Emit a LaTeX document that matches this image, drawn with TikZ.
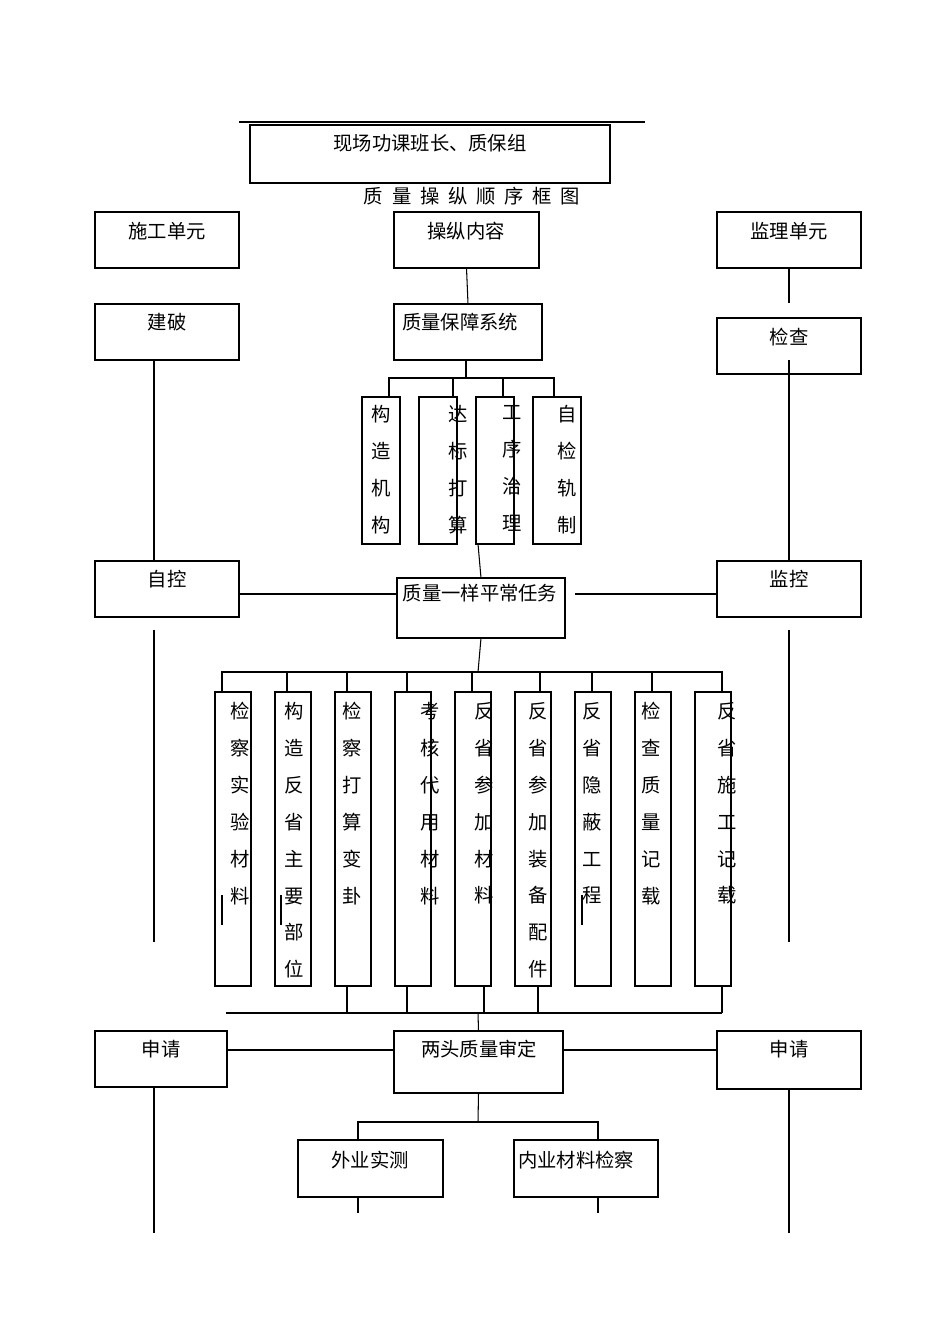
\documentclass[tikz,border=0pt]{standalone}
\usepackage{fontspec}
\newfontfamily\cjk{Noto Sans CJK SC}
\tikzset{bx/.style={draw,semithick,inner sep=0pt,outer sep=0pt},
 tx/.style={inner sep=0pt,font=\cjk\fontsize{11}{13}\selectfont},
 vt/.style={inner sep=0pt,font=\cjk\fontsize{11}{21}\selectfont,align=center,anchor=north},
 ln/.style={semithick}}
\newcommand\bx[5]{\node[bx,minimum width={#4*0.02cm},minimum height={#5*0.02cm}] (#1) at ({#2+#4/2},{#3+#5/2}) {};}
\newcommand\tg{\hspace{5pt}}
\begin{document}
\begin{tikzpicture}[x=0.02cm,y=-0.02cm]
\useasboundingbox (0,0) rectangle (950,1344);
\draw[ln] (239,122) coordinate (t1) -- (645,122) coordinate (t2);
\bx{top}{250}{125}{360}{58}
\node[tx] (ttop) at (430,143) {现场功课班长、质保组};
\node[tx] (title) at (472,196) {质\tg 量\tg 操\tg 纵\tg 顺\tg 序\tg 框\tg 图};
\bx{sg}{95}{212}{144}{56} \node[tx] (tsg) at (167,231) {施工单元};
\bx{cz}{394}{212}{145}{56} \node[tx] (tcz) at (466,231) {操纵内容};
\bx{jl}{717}{212}{144}{56} \node[tx] (tjl) at (789,231) {监理单元};
\bx{jp}{95}{304}{144}{56} \node[tx] (tjp) at (167,322) {建破};
\bx{bz}{394}{304}{148}{56} \node[tx] (tbz) at (460,322) {质量保障系统};
\bx{jc}{717}{318}{144}{56} \node[tx] (tjc) at (789,337) {检查};
\draw[ln] (cz.south) -- (bz.north);
\draw[ln] (789,268) -- (789,303) coordinate (jlend);
\draw[ln] (154,360) -- (154,561);
\draw[ln] (789,360) -- (789,561);
\bx{a1}{362}{397}{38}{147} \bx{a2}{419}{397}{38}{147}
\bx{a3}{476}{397}{38}{147} \bx{a4}{533}{397}{48}{147}
\node[vt] (ta1) at (381,405) {构\\造\\机\\构};
\node[vt] (ta2) at (458,405) {达\\标\\打\\算};
\node[vt] (ta3) at (512,405) {工\\序\\治\\理};
\node[vt] (ta4) at (567,405) {自\\检\\轨\\制};
\draw[ln] (466,360) -- (466,378);
\draw[ln] (389,397) -- (389,378) -- (554,378) -- (554,397);
\draw[ln] (453,378) -- (453,397); \draw[ln] (503,378) -- (503,397);
\bx{zk}{95}{561}{144}{56} \node[tx] (tzk) at (167,579) {自控};
\bx{rw}{397}{578}{168}{60} \node[tx] (trw) at (480,593) {质量一样平常任务};
\bx{jk}{717}{561}{144}{56} \node[tx] (tjk) at (789,579) {监控};
\draw[ln] (478,544) -- (rw.north);
\draw[ln] (zk.east|-0,594) -- (397,594);
\draw[ln] (575,594) -- (jk.west|-0,594);
\draw[ln] (154,630) -- (154,942); \draw[ln] (789,630) -- (789,942);
\draw[ln] (rw.south) -- (478,672);
\draw[ln] (222,692) -- (222,672) -- (722,672) -- (722,692);
\foreach \x in {287,347,407,472,540,592,652} \draw[ln] (\x,672) -- (\x,692);
\foreach \n/\x in {b1/215,b2/275,b3/335,b4/395,b5/455,b6/515,b7/575,b8/635,b9/695}
  {\bx{\n}{\x}{692}{36}{294}}
\node[vt] (tb1) at (240,702) {检\\察\\实\\验\\材\\料};
\node[vt] (tb2) at (294,702) {构\\造\\反\\省\\主\\要\\部\\位};
\node[vt] (tb3) at (352,702) {检\\察\\打\\算\\变\\卦};
\node[vt] (tb4) at (430,702) {考\\核\\代\\用\\材\\料};
\node[vt] (tb5) at (484,702) {反\\省\\参\\加\\材\\料};
\node[vt] (tb6) at (538,702) {反\\省\\参\\加\\装\\备\\配\\件};
\node[vt] (tb7) at (592,702) {反\\省\\隐\\蔽\\工\\程};
\node[vt] (tb8) at (651,702) {检\\查\\质\\量\\记\\载};
\node[vt] (tb9) at (727,702) {反\\省\\施\\工\\记\\载};
\draw[ln] (222,895) -- (222,925); \draw[ln] (281,895) -- (281,925); \draw[ln] (582,895) -- (582,925);
\draw[ln] (226,1013) -- (722,1013);
\foreach \x in {347,407,484,538,722} \draw[ln] (\x,986) -- (\x,1013);
\bx{sq1}{95}{1031}{132}{56} \node[tx] (tsq1) at (161,1049) {申请};
\bx{sd}{394}{1031}{169}{62} \node[tx] (tsd) at (479,1049) {两头质量审定};
\bx{sq2}{717}{1031}{144}{58} \node[tx] (tsq2) at (789,1049) {申请};
\draw[ln] (478,1013) -- (sd.north);
\draw[ln] (sq1.east|-0,1050) -- (394,1050);
\draw[ln] (563,1050) -- (sq2.west|-0,1050);
\draw[ln] (154,1087) -- (154,1233); \draw[ln] (789,1089) -- (789,1233);
\draw[ln] (sd.south) -- (478,1122);
\draw[ln] (358,1140) -- (358,1122) -- (598,1122) -- (598,1140);
\bx{wy}{298}{1140}{145}{57} \node[tx] (twy) at (370,1160) {外业实测};
\bx{ny}{514}{1140}{144}{57} \node[tx] (tny) at (576,1160) {内业材料检察};
\draw[ln] (358,1197) -- (358,1213); \draw[ln] (598,1197) -- (598,1213);
\end{tikzpicture}
\end{document}
